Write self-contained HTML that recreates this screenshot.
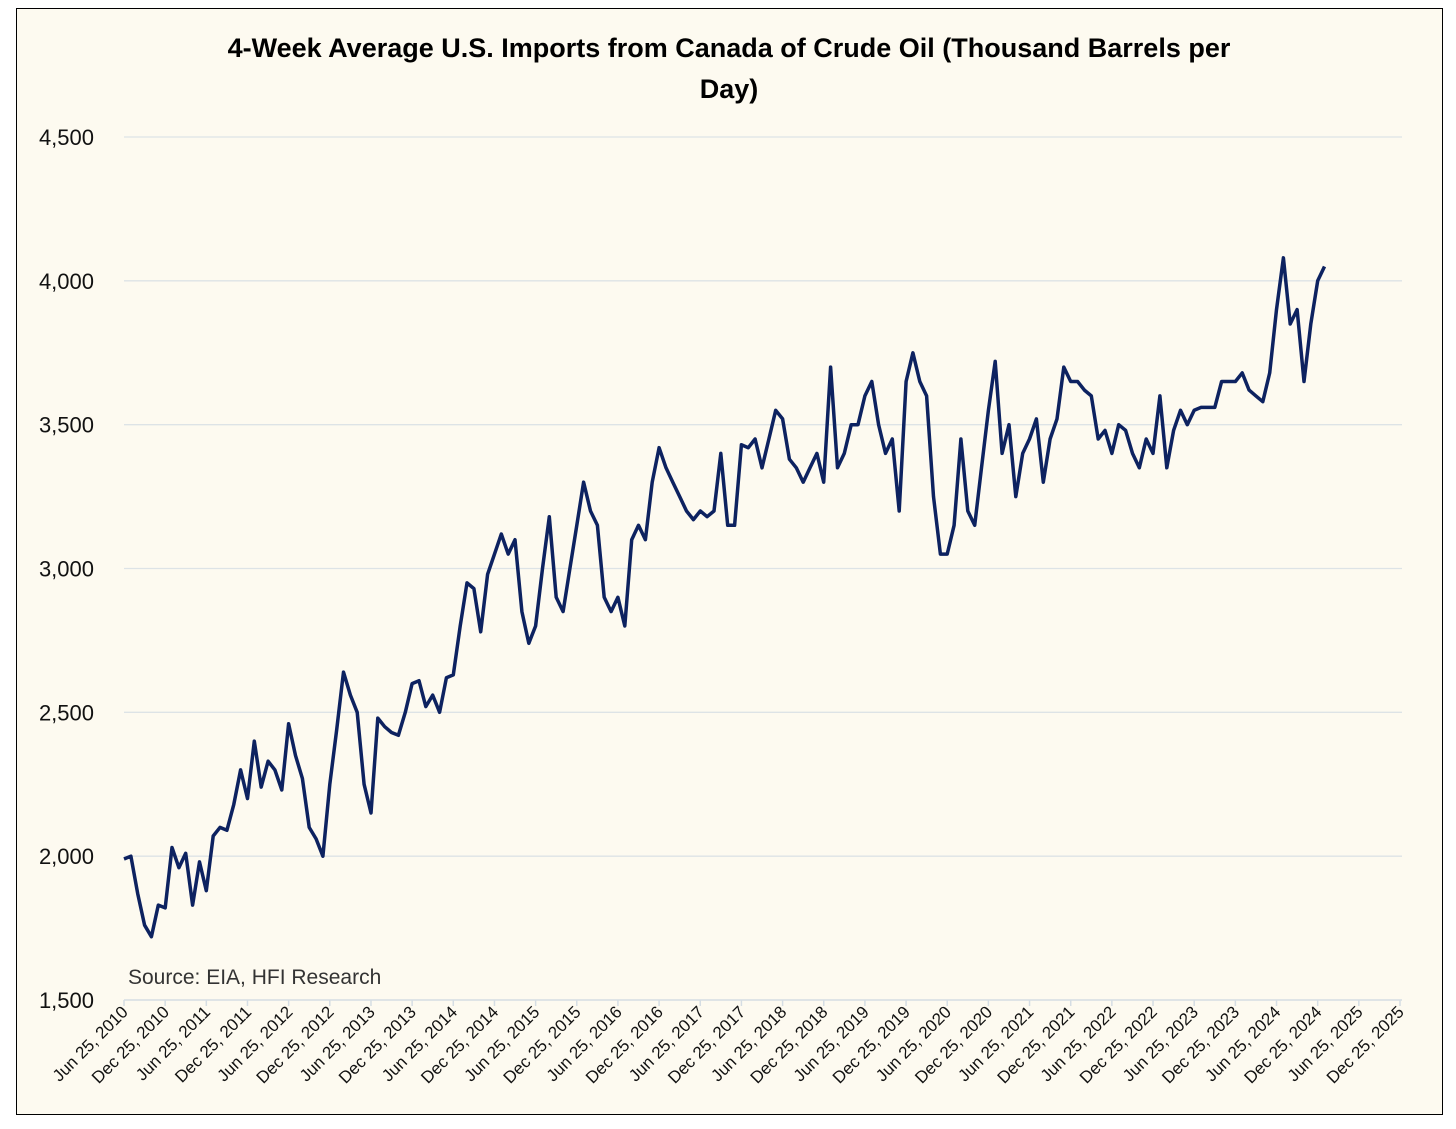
<!DOCTYPE html>
<html><head><meta charset="utf-8"><style>
body{margin:0;background:#fff;width:1456px;height:1129px;overflow:hidden;font-family:"Liberation Sans",sans-serif}
#frame{position:absolute;left:16px;top:8px;width:1425px;height:1105px;border:1.5px solid #000;background:#fdfaf0}
</style></head><body>
<div id="frame"></div>
<svg id="chart" width="1456" height="1129" style="position:absolute;left:0;top:0">
<text x="729" y="57" text-anchor="middle" font-family="Liberation Sans, sans-serif" font-weight="bold" font-size="27">4-Week Average U.S. Imports from Canada of Crude Oil  (Thousand Barrels per</text>
<text x="729" y="98" text-anchor="middle" font-family="Liberation Sans, sans-serif" font-weight="bold" font-size="27">Day)</text>
<text x="128" y="984" font-family="Liberation Sans, sans-serif" font-size="21" fill="#333">Source: EIA, HFI Research</text>
<g id="grid"></g><g id="ylabels"></g><g id="xaxis"></g><g id="series"></g>
</svg>
<script>
const yTicks=[1500,2000,2500,3000,3500,4000,4500];
const yTickLabels=["1,500","2,000","2,500","3,000","3,500","4,000","4,500"];
const xTickLabels=[];
for(let yr=2010;yr<=2025;yr++){xTickLabels.push("Jun 25, "+yr);xTickLabels.push("Dec 25, "+yr);}
const imports=[1990,2000,1870,1760,1720,1830,1820,2030,1960,2010,1830,1980,1880,2070,2100,2090,2180,2300,2200,2400,2240,2330,2300,2230,2460,2350,2270,2100,2060,2000,2250,2440,2640,2560,2500,2250,2150,2480,2450,2430,2420,2500,2600,2610,2520,2560,2500,2620,2630,2800,2950,2930,2780,2980,3050,3120,3050,3100,2850,2740,2800,3000,3180,2900,2850,3000,3150,3300,3200,3150,2900,2850,2900,2800,3100,3150,3100,3300,3420,3350,3300,3250,3200,3170,3200,3180,3200,3400,3150,3150,3430,3420,3450,3350,3450,3550,3520,3380,3350,3300,3350,3400,3300,3700,3350,3400,3500,3500,3600,3650,3500,3400,3450,3200,3650,3750,3650,3600,3250,3050,3050,3150,3450,3200,3150,3350,3550,3720,3400,3500,3250,3400,3450,3520,3300,3450,3520,3700,3650,3650,3620,3600,3450,3480,3400,3500,3480,3400,3350,3450,3400,3600,3350,3480,3550,3500,3550,3560,3560,3560,3650,3650,3650,3680,3620,3600,3580,3680,3900,4080,3850,3900,3650,3850,4000,4050];
const NS="http://www.w3.org/2000/svg";
const X0=124,X1=1400,Ytop=137,Ybot=1000,ymin=1500,ymax=4500;
const nTicks=xTickLabels.length;
const halfW=(X1-X0)/(nTicks-1);
function xm(monthIdx){return X0+monthIdx*halfW/6;}
function y(v){return Ybot-(v-ymin)/(ymax-ymin)*(Ybot-Ytop);}
function mk(t,a,p){const e=document.createElementNS(NS,t);for(const k in a)e.setAttribute(k,a[k]);p.appendChild(e);return e;}
const grid=document.getElementById('grid'),yl=document.getElementById('ylabels'),xa=document.getElementById('xaxis'),se=document.getElementById('series');
yTicks.forEach((v,i)=>{
 if(i>0){const g=mk('line',{x1:X0,x2:1402,y1:y(v),y2:y(v),stroke:'#dde3e6','stroke-width':1.3},grid);
 
 }
 const t=mk('text',{x:94,y:y(v)+8,'text-anchor':'end','font-size':22,fill:'#111'},yl);
 
 
 t.textContent=yTickLabels[i];
});
const ax=mk('line',{x1:X0,x2:1402,y1:Ybot,y2:Ybot,stroke:'#d5dde3','stroke-width':1.5},xa);


xTickLabels.forEach((lab,i)=>{
 const x=X0+i*halfW;
 const tk=mk('line',{x1:x,x2:x,y1:Ybot,y2:Ybot+6,stroke:'#d5dde3','stroke-width':1.5},xa);
 
 
 const t=mk('text',{x:x+5,y:Ybot+13,'text-anchor':'end','font-size':17,fill:'#111',transform:`rotate(-45 ${x+5} ${Ybot+13})`},xa);
 
 
 t.textContent=lab;
});
const d=imports.map((v,i)=>(i?'L':'M')+xm(i).toFixed(1)+','+y(v).toFixed(1)).join(' ');
const p=mk('path',{d:d,fill:'none',stroke:'#0d2260','stroke-width':3.5,'stroke-linejoin':'round'},se);


</script>
</body></html>
